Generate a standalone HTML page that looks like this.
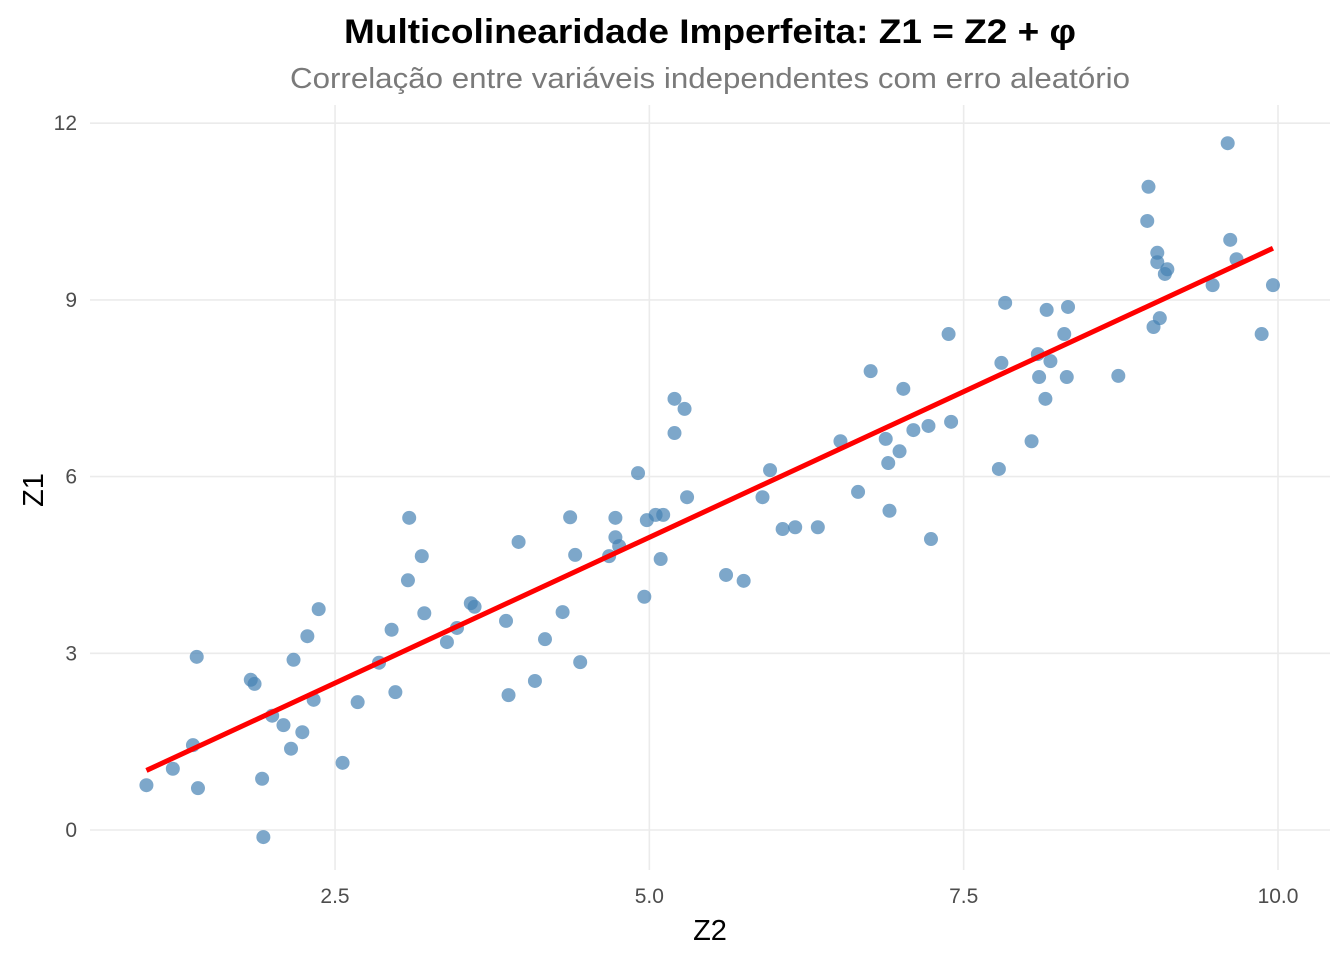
<!DOCTYPE html>
<html><head><meta charset="utf-8"><style>
body{margin:0;background:#fff;}
svg text{font-family:"Liberation Sans",sans-serif;}
</style></head><body>
<svg id="chart" width="1344" height="960">
<text x="710" y="43" text-anchor="middle" font-size="34" font-weight="bold" textLength="732" lengthAdjust="spacingAndGlyphs">Multicolinearidade Imperfeita: Z1 = Z2 + φ</text>
<text x="710" y="88" text-anchor="middle" font-size="29" fill="#7a7a7a" textLength="840" lengthAdjust="spacingAndGlyphs">Correlação entre variáveis independentes com erro aleatório</text>
<g id="grid"></g><g id="ticks"></g><g id="pts"></g><g id="fit"></g>
<text x="710" y="940" text-anchor="middle" font-size="29">Z2</text>
<text transform="translate(43,490) rotate(-90)" text-anchor="middle" font-size="29">Z1</text>
</svg>
<script>
const z2=[1.00,1.21,1.40,1.37,1.41,1.83,1.86,1.92,1.93,2.00,2.09,2.15,2.17,2.24,2.28,2.33,2.37,2.56,2.68,2.85,2.95,2.98,3.08,3.09,3.19,3.21,3.39,3.47,3.58,3.61,3.86,3.88,3.96,4.09,4.17,4.31,4.37,4.41,4.45,4.68,4.73,4.73,4.76,4.91,4.96,4.98,5.05,5.09,5.11,5.20,5.20,5.28,5.30,5.61,5.75,5.90,5.96,6.06,6.16,6.34,6.52,6.66,6.76,6.88,6.90,6.91,6.99,7.02,7.10,7.22,7.24,7.38,7.40,7.78,7.80,7.83,8.04,8.09,8.10,8.15,8.16,8.19,8.30,8.32,8.33,8.73,8.96,8.97,9.01,9.04,9.04,9.06,9.10,9.12,9.48,9.60,9.62,9.67,9.87,9.96];
const z1=[0.76,1.04,2.94,1.44,0.71,2.55,2.48,0.87,-0.12,1.94,1.78,1.38,2.89,1.66,3.29,2.21,3.75,1.14,2.17,2.84,3.40,2.34,4.24,5.30,4.65,3.68,3.19,3.43,3.85,3.79,3.55,2.29,4.89,2.53,3.24,3.70,5.31,4.67,2.85,4.65,4.97,5.30,4.82,6.06,3.96,5.26,5.35,4.60,5.35,6.74,7.32,7.15,5.65,4.33,4.23,5.65,6.11,5.11,5.14,5.14,6.60,5.74,7.79,6.64,6.23,5.42,6.43,7.49,6.79,6.86,4.94,8.42,6.93,6.13,7.93,8.95,6.60,8.08,7.69,7.32,8.83,7.96,8.42,7.69,8.88,7.71,10.34,10.92,8.54,9.80,9.64,8.69,9.44,9.52,9.25,11.66,10.02,9.69,8.42,9.25];
const xTicks=[2.5,5.0,7.5,10.0];
const xTickLabels=["2.5","5.0","7.5","10.0"];
const yTicks=[0,3,6,9,12];
const yTickLabels=["0","3","6","9","12"];
const X=v=>20.7+v*125.73, Y=v=>830-v*58.9;
const NS="http://www.w3.org/2000/svg";
function mk(tag,attrs,parent){const e=document.createElementNS(NS,tag);for(const k in attrs)e.setAttribute(k,attrs[k]);document.getElementById(parent).appendChild(e);return e;}
const L=90,R=1330,T=105,B=870;
for(let i=0;i<xTicks.length;i++){
 const g=mk('line',{x1:X(xTicks[i]),x2:X(xTicks[i]),y1:T,y2:B,stroke:'#ebebeb','stroke-width':1.6},'grid');
 
 
 const t=mk('text',{x:X(xTicks[i]),y:903,'text-anchor':'middle','font-size':21,fill:'#4d4d4d'},'ticks');
 t.textContent=xTickLabels[i];
 
 
}
for(let i=0;i<yTicks.length;i++){
 const g=mk('line',{x1:L,x2:R,y1:Y(yTicks[i]),y2:Y(yTicks[i]),stroke:'#ebebeb','stroke-width':1.6},'grid');
 
 
 const t=mk('text',{x:77,y:Y(yTicks[i])+7,'text-anchor':'end','font-size':21,fill:'#4d4d4d'},'ticks');
 t.textContent=yTickLabels[i];
 
 
}
for(let i=0;i<z2.length;i++){
 const c=mk('circle',{cx:X(z2[i]),cy:Y(z1[i]),r:7,fill:'#4682b4','fill-opacity':0.7},'pts');
 
 
}
const n=z2.length;let mx=0,my=0;for(let i=0;i<n;i++){mx+=z2[i];my+=z1[i];}mx/=n;my/=n;
let sxy=0,sxx=0;for(let i=0;i<n;i++){sxy+=(z2[i]-mx)*(z1[i]-my);sxx+=(z2[i]-mx)**2;}
const b=sxy/sxx,a=my-b*mx;const x0=Math.min(...z2),x1=Math.max(...z2);
const ln=mk('line',{x1:X(x0),y1:Y(a+b*x0),x2:X(x1),y2:Y(a+b*x1),stroke:'#ff0000','stroke-width':5},'fit');


</script>
</body></html>
